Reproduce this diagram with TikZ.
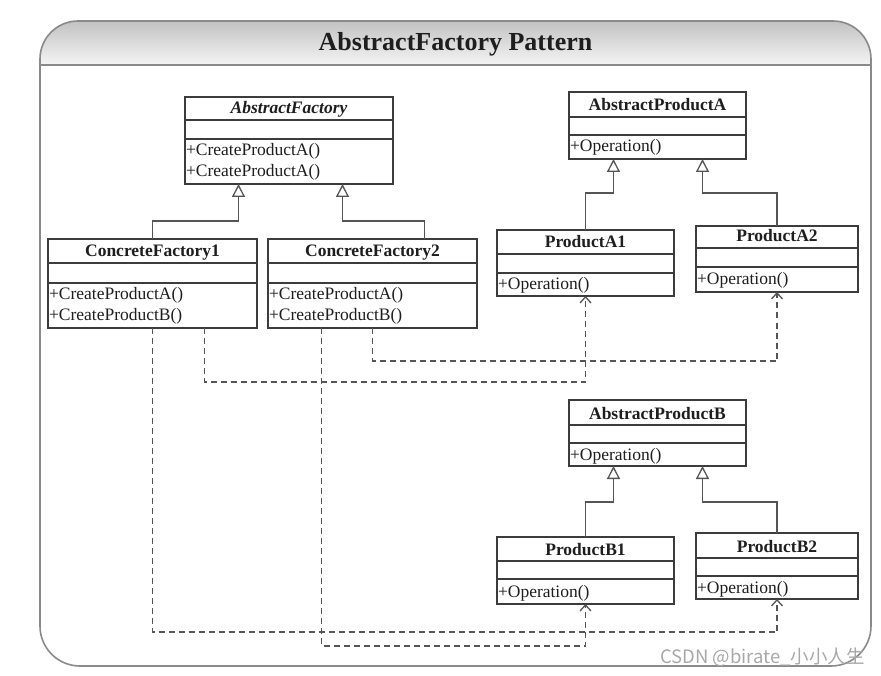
\documentclass[tikz,border=0pt]{standalone}
\usepackage{fontspec}
\setmainfont{Liberation Serif}
\newfontfamily\cjkfont{Noto Sans CJK SC}
\usetikzlibrary{arrows.meta,calc}
\definecolor{framegray}{HTML}{8A8A8A}
\definecolor{boxgray}{HTML}{3C3C3C}
\definecolor{conngray}{HTML}{555555}
\definecolor{textdark}{HTML}{1E1E1E}
\definecolor{wmgray}{HTML}{A8A8A8}
\newcommand\umlbox[9]{%
  \node[clsbox, minimum width=#4pt-#2pt, minimum height=#7pt-#3pt] (#1) at (#2,#3) {};
  \draw[clssep] (#2,#5) -- (#4,#5);
  \draw[clssep] (#2,#6) -- (#4,#6);
  \node[#9] (#1-name) at ({(#2+#4)/2},{#5-6}) {#8};
}
\begin{document}
\begin{tikzpicture}[x=1pt,y=-1pt,
  clsbox/.style={draw=boxgray, line width=1.3pt, rectangle, inner sep=0pt, outer sep=0pt, anchor=north west},
  clssep/.style={draw=boxgray, line width=1.3pt},
  clsname/.style={anchor=base, inner sep=0pt, text=textdark, font=\bfseries\fontsize{17.5}{21}\selectfont},
  clsabs/.style={clsname, font=\bfseries\itshape\fontsize{17.5}{21}\selectfont},
  op/.style={anchor=base west, inner sep=0pt, text=textdark, font=\fontsize{17.5}{21}\selectfont},
  inh/.style={draw=conngray, line width=1.3pt, -{Triangle[length=13pt,width=13pt,fill=white]}},
  dep/.style={draw=conngray, line width=1.3pt, dash pattern=on 6pt off 4pt, -{Straight Barb[length=6pt,width=11pt]}},
]
\useasboundingbox (0,0) rectangle (881,676);
% frame
\shade[top color=black!24, bottom color=black!4]
  (40,65) [rounded corners=38pt] -- (40,21) -- (871,21) [sharp corners] -- (871,65) -- cycle;
\draw[framegray, line width=1.6pt]
  (40,65) [rounded corners=38pt] -- (40,21) -- (871,21) [rounded corners=40pt] -- (871,666) -- (40,666) [sharp corners] -- cycle;
\draw[framegray, line width=1.6pt] (40,65) -- (871,65);
\node[anchor=base, inner sep=0pt, text=textdark, font=\bfseries\fontsize{26}{30}\selectfont] (title) at (455.5,51) {AbstractFactory Pattern};

% classes
\umlbox{af}{185}{97}{393}{120}{139}{184}{AbstractFactory}{clsabs}
\node[op] (af-op1) at (185.8,156) {+CreateProductA()};
\node[op] (af-op2) at (185.8,177) {+CreateProductA()};

\umlbox{cf1}{48}{239}{257}{263}{283}{328}{ConcreteFactory1}{clsname}
\node[op] (cf1-op1) at (48.8,300) {+CreateProductA()};
\node[op] (cf1-op2) at (48.8,321) {+CreateProductB()};

\umlbox{cf2}{268}{239}{477}{263}{283}{328}{ConcreteFactory2}{clsname}
\node[op] (cf2-op1) at (268.8,300) {+CreateProductA()};
\node[op] (cf2-op2) at (268.8,321) {+CreateProductB()};

\umlbox{apa}{569}{92}{746}{117}{135}{159}{AbstractProductA}{clsname}
\node[op] (apa-op1) at (569.8,152) {+Operation()};

\umlbox{pa1}{497}{230}{674}{254}{273}{296}{ProductA1}{clsname}
\node[op] (pa1-op1) at (497.8,290) {+Operation()};

\umlbox{pa2}{696}{226}{858}{248}{267}{292}{ProductA2}{clsname}
\node[op] (pa2-op1) at (696.8,285) {+Operation()};

\umlbox{apb}{569}{400}{746}{425}{443}{466}{AbstractProductB}{clsname}
\node[op] (apb-op1) at (569.8,460) {+Operation()};

\umlbox{pb1}{497}{537}{674}{561}{579}{604}{ProductB1}{clsname}
\node[op] (pb1-op1) at (497.8,597) {+Operation()};

\umlbox{pb2}{696}{533}{858}{558}{576}{599}{ProductB2}{clsname}
\node[op] (pb2-op1) at (696.8,593) {+Operation()};

% generalisations
\draw[inh] (cf1.north) -- ++(0,-18) -| ($(af.south west)+(53.5,0)$);
\draw[inh] ($(cf2.north west)+(156.5,0)$) -- ++(0,-18) -| ($(af.south west)+(157.5,0)$);
\draw[inh] (pa1.north) -- ++(0,-37) -| ($(apa.south west)+(44.5,0)$);
\draw[inh] (pa2.north) -- ++(0,-33) -| ($(apa.south west)+(133.5,0)$);
\draw[inh] (pb1.north) -- ++(0,-35) -| ($(apb.south west)+(44.5,0)$);
\draw[inh] (pb2.north) -- ++(0,-31) -| ($(apb.south west)+(133.5,0)$);

% dependencies
\draw[dep] ($(cf1.south west)+(156.5,0)$) -- ++(0,54) -| (pa1.south);
\draw[dep] (cf2.south) -- ++(0,33) -| (pa2.south);
\draw[dep] (cf1.south) -- ++(0,304) -| (pb2.south);
\draw[dep] ($(cf2.south west)+(53.5,0)$) -- ++(0,318) -| (pb1.south);

% watermark
\node[anchor=base east, inner sep=0pt, text=wmgray, font=\cjkfont\fontsize{18.5}{22}\selectfont] (wm) at (865,663) {CSDN @birate\_小小人生};
\end{tikzpicture}
\end{document}
